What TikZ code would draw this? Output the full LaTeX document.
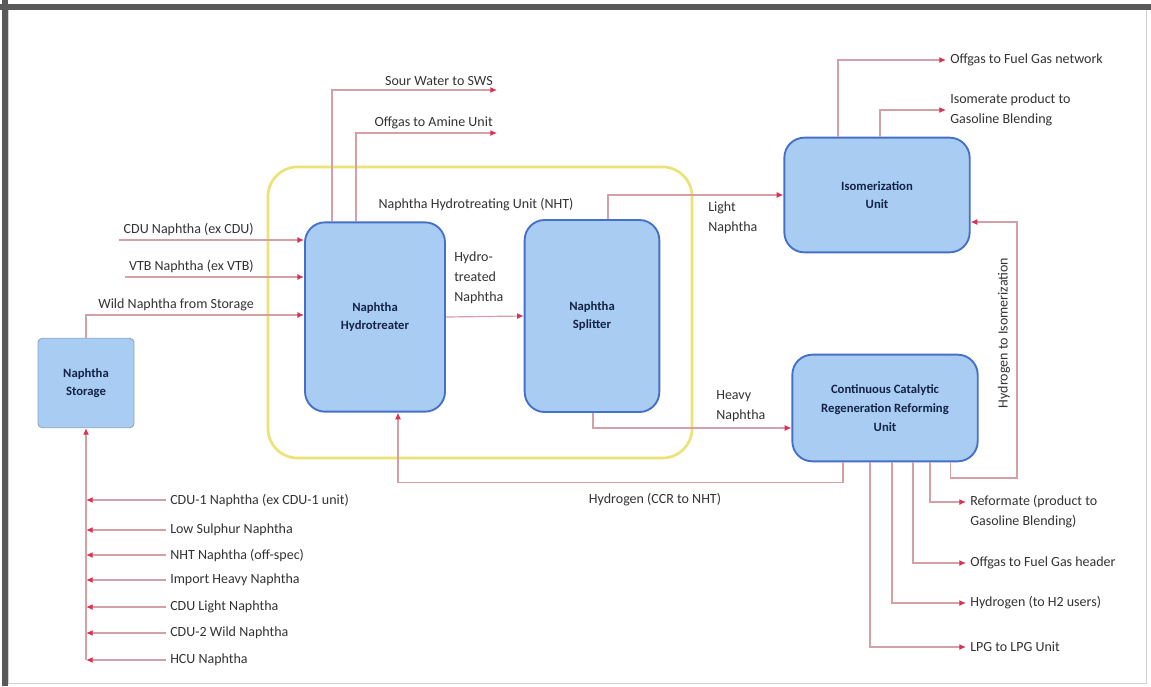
\documentclass[tikz,border=0pt]{standalone}
\usepackage{fontspec}
\setmainfont{Carlito}
\usetikzlibrary{arrows.meta,positioning,calc}
\definecolor{unitfill}{RGB}{168,204,242}
\definecolor{unitline}{RGB}{70,112,200}
\definecolor{unittext}{RGB}{20,35,70}
\definecolor{pipecol}{RGB}{210,160,166}
\definecolor{tipred}{RGB}{222,48,82}
\definecolor{nhtzone}{RGB}{236,226,118}

\begin{document}
\begin{tikzpicture}[x=0.75pt,y=-0.75pt,
  unit/.style={draw=unitline,line width=1.4pt,fill=unitfill,rounded corners=15pt,align=center,font=\bfseries\fontsize{9.5}{14}\selectfont,text=unittext},
  tank/.style={draw=unitfill!80!black,line width=0.6pt,fill=unitfill,rounded corners=3pt,align=center,font=\bfseries\fontsize{9.5}{14}\selectfont,text=unittext},
  lab/.style={font=\fontsize{10.5}{15}\selectfont,text=black!80,inner sep=3pt},
  flow/.style={draw=pipecol,line width=0.9pt,-{Latex[length=5pt,width=4.5pt,color=tipred]}}]
\fill[white] (0,0) rectangle (1151,686);
\useasboundingbox (0,0) rectangle (1151,686);
% frame
\draw[gray!35] (8,8) rectangle (1146,683);
\draw[line width=4.5pt,gray!70!black] (0,7) -- (1151,7);
\draw[line width=4.5pt,gray!70!black] (5,0) -- (5,686);

% NHT battery limit
\draw[nhtzone,line width=2pt,rounded corners=22pt] (268,167) rectangle (692,458);
\node[lab] (nhtlab) at (476,205) {Naphtha Hydrotreating Unit (NHT)};

% units
\node[tank,minimum width=72pt,minimum height=67pt] (stor) at (86,383) {Naphtha\\Storage};
\node[unit,minimum width=105pt,minimum height=142pt] (nht) at (375,317) {Naphtha\\Hydrotreater};
\node[unit,minimum width=101pt,minimum height=144pt] (spl) at (592,316) {Naphtha\\Splitter};
\node[unit,minimum width=139pt,minimum height=86pt] (isom) at (877,195) {Isomerization\\Unit};
\node[unit,minimum width=139pt,minimum height=80pt] (ccr) at (885,408) {Continuous Catalytic\\Regeneration Reforming\\Unit};

% feeds to NHT
\node[lab,anchor=south east] (cdu) at (258,240) {CDU Naphtha (ex CDU)};
\node[lab,anchor=south east] (vtb) at (258,277) {VTB Naphtha (ex VTB)};
\node[lab,anchor=south east] (wild) at (258,315) {Wild Naphtha from Storage};
\draw[flow] (cdu.south west) -- (cdu.south west -| nht.west);
\draw[flow] (vtb.south west) -- (vtb.south west -| nht.west);
\draw[flow] (stor.north) |- (wild.south -| nht.west);

% NHT overhead
\node[lab,anchor=south east] (sour) at (497,90) {Sour Water to SWS};
\node[lab,anchor=south east] (offnht) at (497,133) {Offgas to Amine Unit};
\draw[flow] ($(nht.north west)+(28,0)$) |- (sour.south east);
\draw[flow] ($(nht.north west)+(52,0)$) |- (offnht.south east);

% NHT to splitter
\draw[flow] (nht.east) -- (spl.west);
\node[lab,anchor=south west,align=left] (htn) at (450,308) {Hydro-\\treated\\Naphtha};

% splitter products
\draw[flow] ($(spl.north)+(16,0)$) |- (isom.west);
\node[lab,anchor=north west,align=left] (ln) at (704,198) {Light\\Naphtha};
\draw[flow] ($(spl.south)+(1,0)$) |- ($(ccr.west)+(0,20)$);
\node[lab,anchor=south west,align=left] (hn) at (712,426) {Heavy\\Naphtha};

% hydrogen
\draw[flow] ($(ccr.south)+(-42,0)$) -- ++(0,20) -| ($(nht.south)+(23,0)$);
\node[lab] (h2nht) at (655,500) {Hydrogen (CCR to NHT)};
\coordinate (h2turn) at (1017,478);
\draw[flow] ($(ccr.south east)+(-28,0)$) |- (h2turn) |- ($(isom.east)+(0,27)$);
\node[lab,rotate=90] (h2iso) at (1004,333) {Hydrogen to Isomerization};

% isomerization products
\node[lab,anchor=west] (isoff) at (946,60) {Offgas to Fuel Gas network};
\node[lab,anchor=west,align=left] (isomer) at (946,110) {Isomerate product to\\Gasoline Blending};
\draw[flow] ($(isom.north)+(-39,0)$) |- (isoff.west);
\draw[flow] ($(isom.north)+(3,0)$) |- (isomer.west);

% reformer products
\node[lab,anchor=north west,align=left] (refo) at (966,491) {Reformate (product to\\Gasoline Blending)};
\node[lab,anchor=west] (ccroff) at (966,563) {Offgas to Fuel Gas header};
\node[lab,anchor=west] (h2exp) at (966,603) {Hydrogen (to H2 users)};
\node[lab,anchor=west] (lpg) at (966,647) {LPG to LPG Unit};
\draw[flow] ($(ccr.south)+(45,0)$) |- ($(refo.north west)+(0,11)$);
\draw[flow] ($(ccr.south)+(28,0)$) |- (ccroff.west);
\draw[flow] ($(ccr.south)+(7,0)$) |- (h2exp.west);
\draw[flow] ($(ccr.south)+(-15,0)$) |- (lpg.west);

% streams into storage
\foreach \nm/\yy/\txt in {s1/500/{CDU-1 Naphtha (ex CDU-1 unit)},s2/530/{Low Sulphur Naphtha},
  s3/555/{NHT Naphtha (off-spec)},s4/580/{Import Heavy Naphtha},s5/607/{CDU Light Naphtha},
  s6/633/{CDU-2 Wild Naphtha},s7/660/{HCU Naphtha}}{
  \node[lab,anchor=west] (\nm) at (166,\yy) {\txt};
  \draw[flow] (\nm.west) -- (\nm.west -| stor.south);
}
\draw[flow] (s7.west -| stor.south) -- (stor.south);
\end{tikzpicture}
\end{document}
